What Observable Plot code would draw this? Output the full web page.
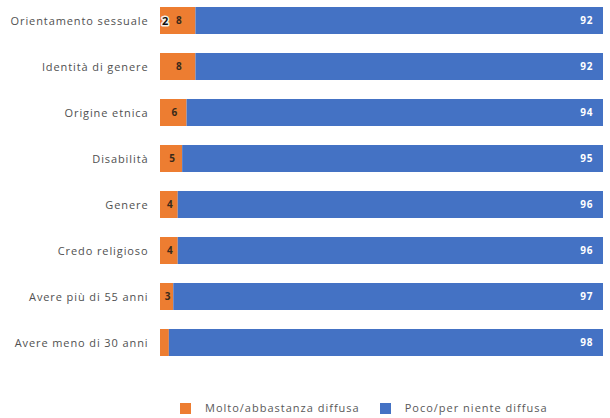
<!DOCTYPE html>
<html><head><meta charset="utf-8">
<script src="https://cdn.jsdelivr.net/npm/d3@7"></script>
<script src="https://cdn.jsdelivr.net/npm/@observablehq/plot@0.6"></script>
<style>
body{margin:0;background:#fff;font-family:"Open Sans",sans-serif;}
#legend{display:flex;gap:20px;margin-left:180px;margin-top:37px;font-size:11px;letter-spacing:1px;color:#595959;align-items:center}
.sw{display:inline-block;width:11px;height:11px;margin-right:14px;vertical-align:-2px}
</style></head><body>
<div id="chart"></div>
<div id="legend"></div>
<script>
const categories = ["Orientamento sessuale","Identità di genere","Origine etnica","Disabilità","Genere","Credo religioso","Avere più di 55 anni","Avere meno di 30 anni"];
const molto = [8,8,6,5,4,4,3,2];
const poco = [92,92,94,95,96,96,97,98];
const seriesNames = ["Molto/abbastanza diffusa","Poco/per niente diffusa"];
const colors = ["#ED7D31","#4472C4"];
const orangeLabels = ["8","8","6","5","4","4","3",""];
const strayLabel = {category:"Orientamento sessuale", text:"2"};

const rows = [];
categories.forEach((c,i)=>{
  rows.push({cat:c, series:seriesNames[0], value:molto[i], start:0, end:molto[i], label:orangeLabels[i]});
  rows.push({cat:c, series:seriesNames[1], value:poco[i], start:molto[i], end:molto[i]+poco[i], label:String(poco[i])});
});
const orange = rows.filter(d=>d.series===seriesNames[0]);
const blue = rows.filter(d=>d.series===seriesNames[1]);

const chart = Plot.plot({
  width:610, height:363,
  marginLeft:160, marginRight:7, marginTop:0, marginBottom:0,
  x:{domain:[0,100], axis:null},
  y:{domain:categories, paddingInner:0.42, paddingOuter:0.15, label:null, tickSize:0, tickPadding:12},
  color:{domain:seriesNames, range:colors},
  style:{fontFamily:"'Open Sans', sans-serif", fontSize:"11px", color:"#505050", letterSpacing:"0.9px"},
  marks:[
    Plot.barX(rows,{y:"cat", x1:"start", x2:"end", fill:"series"}),
    Plot.text(orange,{y:"cat", x:d=>(d.start+d.end)/2, dx:1, text:"label", fill:"#3a2a1a", fontSize:10, fontWeight:"bold", letterSpacing:"0px"}),
    Plot.text(blue,{y:"cat", x:"end", dx:-10, text:"label", fill:"white", fontSize:10, fontWeight:"bold", textAnchor:"end", letterSpacing:"0px"}),
    Plot.text([strayLabel],{y:"category", x:0, dx:5, text:"text", fill:"#111", fontSize:11, fontWeight:"bold", stroke:"#f3efe6", strokeWidth:3, paintOrder:"stroke"})
  ]
});
document.getElementById("chart").appendChild(chart);
const lg = document.getElementById("legend");
seriesNames.forEach((s,i)=>{
  const d = document.createElement("span");
  d.innerHTML = `<span class="sw" style="background:${colors[i]}"></span>${s}`;
  lg.appendChild(d);
});
</script></body></html>
